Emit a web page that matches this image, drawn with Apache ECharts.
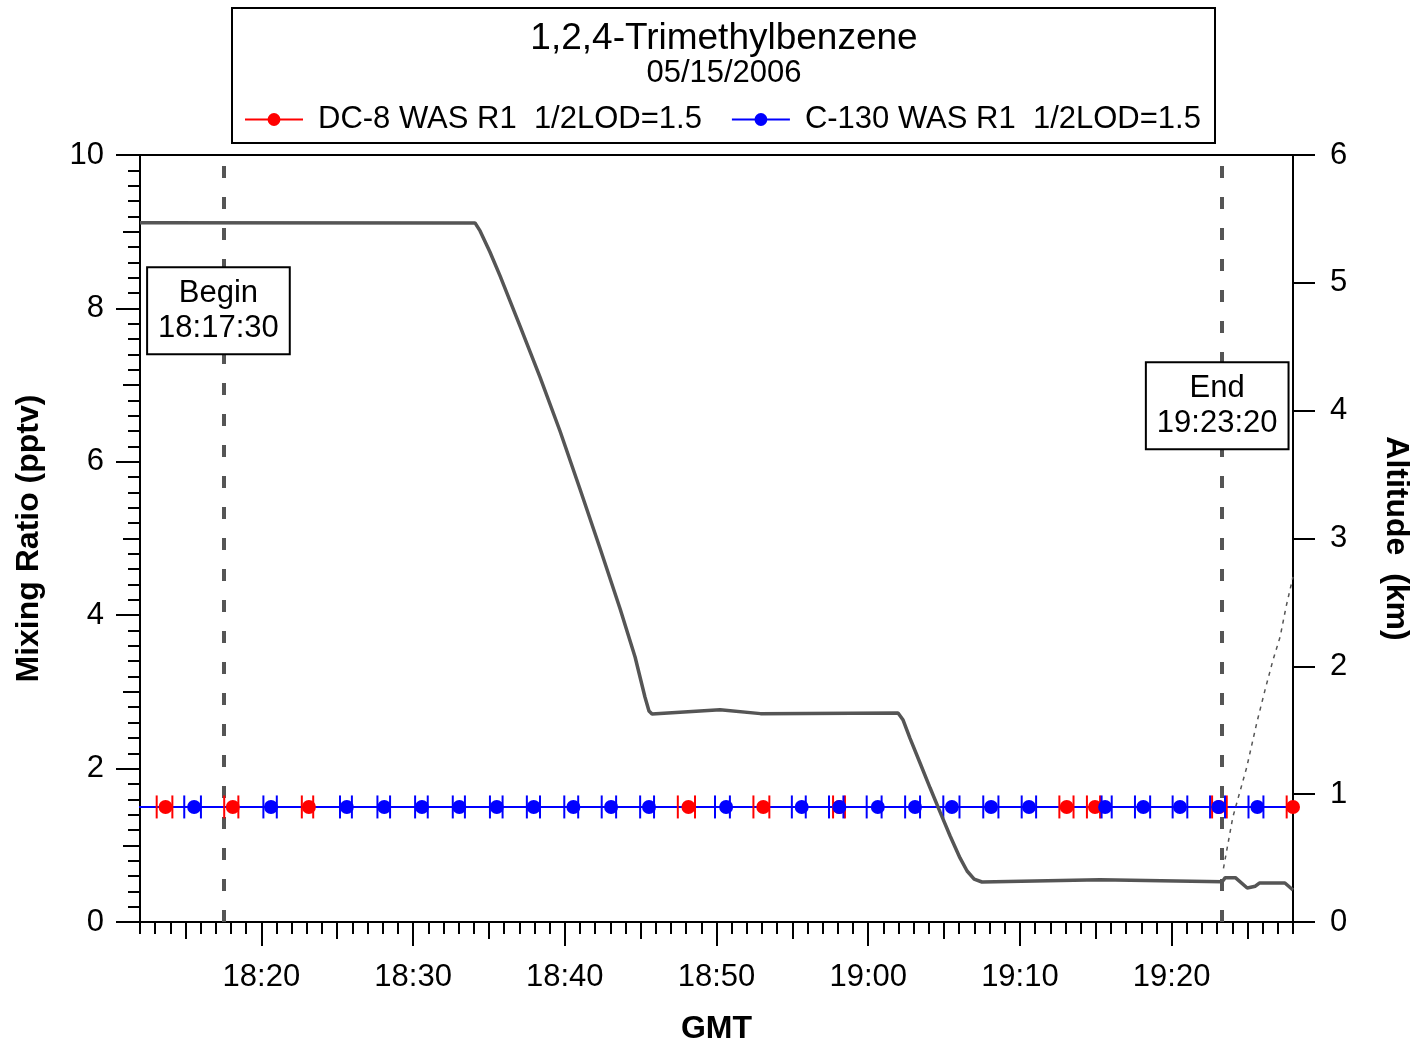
<!DOCTYPE html>
<html>
<head>
<meta charset="utf-8">
<script src="https://cdn.jsdelivr.net/npm/echarts@6/dist/echarts.min.js"></script>
<style>
    html, body { margin: 0; padding: 0; background: #fff; }
    #main { width: 1427px; height: 1045px; }
</style>
</head>
<body>
<div id="main"></div>
<script>
    // all times are GMT clock strings, turned into minutes of the day for the axes
    var xStart = '18:12:00';
    var xEnd = '19:28:00';
    var majorTicks = ['18:20', '18:30', '18:40', '18:50', '19:00', '19:10', '19:20'];
    var beginTime = '18:17:30';
    var endTime = '19:23:20';
    var lod = 1.5;

    // DC-8 canisters: start, middle, stop
    var dc8Start = ['18:13:06', '18:17:33', '18:22:40', '18:47:27', '18:52:26', '18:57:41', '19:12:36', '19:14:25', '19:22:40', '19:27:35'];
    var dc8Mid   = ['18:13:41', '18:18:07', '18:23:08', '18:48:09', '18:53:05', '18:58:05', '19:13:05', '19:14:57', '19:23:08', '19:28:00'];
    var dc8Stop  = ['18:14:08', '18:18:29', '18:23:25', '18:48:35', '18:53:29', '18:58:28', '19:13:32', '19:15:17', '19:23:38', '19:28:30'];

    // C-130 canisters: start, middle, stop
    var c130Start = ['18:10:30', '18:14:55', '18:20:08', '18:25:11', '18:27:39', '18:30:08', '18:32:37', '18:35:04', '18:37:30',
        '18:39:58', '18:42:26', '18:44:58', '18:49:54', '18:54:58', '18:57:25', '18:59:54', '19:02:26', '19:04:57',
        '19:07:35', '19:10:07', '19:15:23', '19:17:35', '19:20:04', '19:22:32', '19:25:04', '19:29:30'];
    var c130Mid = ['18:11:00', '18:15:34', '18:20:38', '18:25:38', '18:28:06', '18:30:35', '18:33:03', '18:35:31', '18:37:57',
        '18:40:34', '18:43:03', '18:45:33', '18:50:38', '18:55:37', '18:58:06', '19:00:38', '19:03:05', '19:05:31',
        '19:08:06', '19:10:36', '19:15:37', '19:18:08', '19:20:33', '19:23:05', '19:25:39', '19:30:00'];
    var c130Stop = ['18:11:30', '18:16:01', '18:21:01', '18:25:58', '18:28:29', '18:30:58', '18:33:25', '18:35:54', '18:38:22',
        '18:40:53', '18:43:23', '18:45:53', '18:50:53', '18:55:53', '18:58:22', '19:00:53', '19:03:25', '19:06:01',
        '19:08:35', '19:11:04', '19:16:03', '19:18:35', '19:21:02', '19:23:31', '19:26:03', '19:30:30'];

    // aircraft altitude (km)
    var altTimes = ['18:12:00', '18:34:05', '18:34:25', '18:35:04', '18:35:44', '18:37:03', '18:38:22', '18:39:41',
        '18:41:00', '18:42:19', '18:43:39', '18:44:38', '18:45:17', '18:45:33', '18:45:45', '18:50:14', '18:52:54',
        '19:01:58', '19:02:18', '19:02:45', '19:03:25', '19:04:05', '19:04:44', '19:05:24', '19:06:03', '19:06:31',
        '19:06:59', '19:07:30', '19:15:17', '19:23:20', '19:23:32', '19:24:12', '19:24:59', '19:25:31', '19:25:47',
        '19:27:28', '19:28:00'];
    var altKm = [5.47, 5.469, 5.406, 5.241, 5.054, 4.662, 4.263, 3.841,
        3.387, 2.926, 2.449, 2.073, 1.760, 1.651, 1.627, 1.66, 1.63,
        1.635, 1.580, 1.439, 1.244, 1.048, 0.861, 0.673, 0.501, 0.399,
        0.336, 0.313, 0.33, 0.315, 0.347, 0.347, 0.266, 0.28, 0.305,
        0.305, 0.25];

    // dotted altitude trace after the end of the comparison
    var alt2Times = ['19:23:25', '19:24:02', '19:24:57', '19:25:37', '19:26:10', '19:26:41', '19:27:09', '19:27:32', '19:28:00'];
    var alt2Km = [0.42, 0.82, 1.21, 1.56, 1.82, 2.05, 2.23, 2.46, 2.70];

    function toMin(s) {
        var p = s.split(':');
        return +p[0] * 60 + +p[1] + (p[2] ? +p[2] / 60 : 0);
    }
    function clock(v) {
        var h = Math.floor(v / 60), m = Math.round(v - h * 60);
        return h + ':' + (m < 10 ? '0' : '') + m;
    }
    function pairs(times, vals) {
        return times.map(function (t, i) {
            return [toMin(t), vals[i]];
        });
    }
    function flat(times) {
        return times.map(function (t) {
            return [toMin(t), lod];
        });
    }

    var xMin = toMin(xStart), xMax = toMin(xEnd);
    var majorVals = majorTicks.map(toMin);
    var mediumVals = [], minorVals = [];
    for (var v = Math.ceil(xMin); v <= xMax; v++) {
        minorVals.push(v);
        if (v % 5 === 0 && v % 10 !== 0) {
            mediumVals.push(v);
        }
    }

    var font = 'Liberation Sans, Arial, sans-serif';
    var dc8Name = 'DC-8 WAS R1  1/2LOD=1.5';
    var c130Name = 'C-130 WAS R1  1/2LOD=1.5';

    function bottomAxis(values, len, extra) {
        var axis = {
            type: 'value',
            position: 'bottom',
            min: xMin,
            max: xMax,
            splitLine: {show: false},
            axisLine: {show: false},
            axisLabel: {show: false},
            axisTick: {
                show: true,
                customValues: values,
                length: len,
                lineStyle: {color: '#000', width: 2}
            }
        };
        return Object.assign(axis, extra || {});
    }

    function errorBars(color, starts, stops, z) {
        return {
            type: 'custom',
            clip: true,
            z: z,
            silent: true,
            data: starts.map(function (s, i) {
                return [toMin(s), toMin(stops[i]), lod];
            }),
            encode: {x: [0, 1], y: 2},
            renderItem: function (params, api) {
                var a = api.coord([api.value(0), api.value(2)]);
                var b = api.coord([api.value(1), api.value(2)]);
                var h = 11.5;
                var st = {stroke: color, lineWidth: 2};
                return {
                    type: 'group',
                    children: [
                        {type: 'line', shape: {x1: a[0], y1: a[1] - h, x2: a[0], y2: a[1] + h}, style: st},
                        {type: 'line', shape: {x1: b[0], y1: b[1] - h, x2: b[0], y2: b[1] + h}, style: st}
                    ]
                };
            }
        };
    }

    var chart = echarts.init(document.getElementById('main'));
    var option = {
        animation: false,
        textStyle: {fontFamily: font},
        title: {
            text: '1,2,4-Trimethylbenzene',
            subtext: '05/15/2006',
            left: 724,
            top: 20,
            textAlign: 'center',
            padding: 0,
            itemGap: 1,
            textStyle: {fontSize: 37, fontWeight: 'normal', color: '#000', fontFamily: font},
            subtextStyle: {fontSize: 31, color: '#000', fontFamily: font}
        },
        graphic: [{
            type: 'rect',
            shape: {x: 232, y: 8, width: 983, height: 135},
            style: {fill: 'none', stroke: '#000', lineWidth: 2},
            silent: true
        }],
        legend: {
            data: [dc8Name, c130Name],
            left: 244,
            top: 104,
            padding: 0,
            itemWidth: 58,
            itemHeight: 16,
            itemGap: 29,
            textStyle: {fontSize: 31, color: '#000', fontFamily: font, padding: [0, 0, 0, 10]}
        },
        grid: {
            left: 140,
            right: 134,
            top: 155,
            bottom: 123,
            outerBoundsMode: 'none',
            show: true,
            borderColor: '#000',
            borderWidth: 2,
            backgroundColor: 'transparent'
        },
        xAxis: [
            bottomAxis(majorVals, 24, {
                axisLine: {show: true, lineStyle: {color: '#000', width: 2}},
                axisLabel: {
                    show: true,
                    customValues: majorVals,
                    formatter: clock,
                    fontSize: 31,
                    margin: 40,
                    color: '#000',
                    fontFamily: font
                },
                name: 'GMT',
                nameLocation: 'middle',
                nameGap: 91,
                nameTextStyle: {fontSize: 32, fontWeight: 'bold', color: '#000', fontFamily: font}
            }),
            bottomAxis(mediumVals, 17),
            bottomAxis(minorVals, 12)
        ],
        yAxis: [
            {
                type: 'value',
                position: 'left',
                min: 0,
                max: 10,
                interval: 2,
                splitLine: {show: false},
                axisLine: {show: true, lineStyle: {color: '#000', width: 2}},
                axisTick: {show: true, length: 24, lineStyle: {color: '#000', width: 2}},
                axisLabel: {fontSize: 31, margin: 36, color: '#000', fontFamily: font},
                name: 'Mixing Ratio (pptv)',
                nameLocation: 'middle',
                nameGap: 95,
                nameTextStyle: {fontSize: 32, fontWeight: 'bold', color: '#000', fontFamily: font}
            },
            {
                type: 'value',
                position: 'left',
                min: 0,
                max: 10,
                interval: 1,
                splitLine: {show: false},
                axisLine: {show: false},
                axisLabel: {show: false},
                axisTick: {show: true, length: 17, lineStyle: {color: '#000', width: 2}},
                minorTick: {show: true, splitNumber: 5, length: 12, lineStyle: {color: '#000', width: 2}}
            },
            {
                type: 'value',
                position: 'right',
                min: 0,
                max: 6,
                interval: 1,
                splitLine: {show: false},
                axisLine: {show: true, lineStyle: {color: '#000', width: 2}},
                axisTick: {show: true, length: 22, lineStyle: {color: '#000', width: 2}},
                axisLabel: {fontSize: 31, margin: 37, color: '#000', fontFamily: font},
                name: 'Altitude  (km)',
                nameLocation: 'middle',
                nameRotate: -90,
                nameGap: 87,
                nameTextStyle: {fontSize: 32, fontWeight: 'bold', color: '#000', fontFamily: font}
            }
        ],
        series: [
            {
                name: dc8Name,
                type: 'line',
                data: flat(dc8Mid),
                symbol: 'circle',
                showSymbol: false,
                color: '#ff0000',
                lineStyle: {color: '#ff0000', width: 2},
                z: 2,
                markLine: {
                    silent: true,
                    symbol: 'none',
                    z: 1,
                    label: {show: false},
                    lineStyle: {color: '#555', width: 4, type: [12, 19]},
                    data: [{xAxis: toMin(beginTime)}, {xAxis: toMin(endTime)}]
                }
            },
            {
                name: c130Name,
                type: 'line',
                data: flat(c130Mid),
                symbol: 'circle',
                showSymbol: false,
                color: '#0000ff',
                lineStyle: {color: '#0000ff', width: 2},
                z: 2
            },
            errorBars('#ff0000', dc8Start, dc8Stop, 3),
            {
                type: 'scatter',
                data: flat(dc8Mid),
                symbol: 'circle',
                symbolSize: 14,
                itemStyle: {color: '#ff0000', opacity: 1},
                silent: true,
                z: 4
            },
            errorBars('#0000ff', c130Start, c130Stop, 5),
            {
                type: 'scatter',
                data: flat(c130Mid),
                symbol: 'circle',
                symbolSize: 14,
                itemStyle: {color: '#0000ff', opacity: 1},
                silent: true,
                z: 6
            },
            {
                type: 'line',
                yAxisIndex: 2,
                data: pairs(altTimes, altKm),
                showSymbol: false,
                lineStyle: {color: '#555', width: 3.5},
                silent: true,
                z: 7
            },
            {
                type: 'line',
                yAxisIndex: 2,
                data: pairs(alt2Times, alt2Km),
                showSymbol: false,
                lineStyle: {color: '#555', width: 1.5, type: [4, 5]},
                silent: true,
                z: 7
            },
            {
                type: 'scatter',
                silent: true,
                symbol: 'rect',
                symbolSize: 1,
                itemStyle: {color: 'rgba(0,0,0,0)', opacity: 1},
                z: 10,
                data: [
                    {name: 'Begin\n' + beginTime, value: [toMin(beginTime), 7.97]},
                    {name: 'End\n' + endTime, value: [toMin(endTime), 6.73]}
                ],
                label: {
                    show: true,
                    position: 'inside',
                    offset: [-5, 0],
                    formatter: '{b}',
                    fontSize: 31,
                    lineHeight: 35,
                    align: 'center',
                    color: '#000',
                    textBorderWidth: 0,
                    fontFamily: font,
                    backgroundColor: '#fff',
                    borderColor: '#000',
                    borderWidth: 2,
                    padding: [8, 10, 7, 10]
                }
            }
        ]
    };
    chart.setOption(option);
</script>
</body>
</html>
